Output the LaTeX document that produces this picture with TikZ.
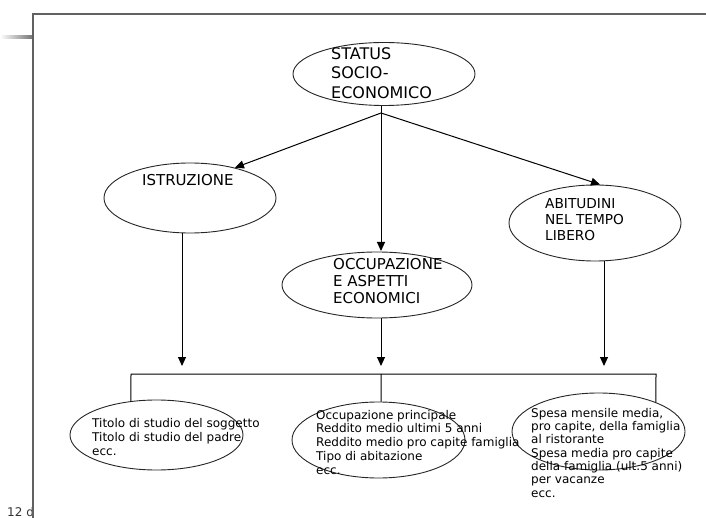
\documentclass[tikz,border=0pt]{standalone}
\usepackage{fontspec}
\setmainfont{DejaVu Sans}
\usetikzlibrary{shapes.geometric,arrows.meta}
\begin{document}
\begin{tikzpicture}[x=1pt,y=-1pt,
  bubble/.style={draw=black!85, line width=0.9pt, ellipse, inner sep=0pt},
  caption/.style={anchor=north west, align=left, inner sep=0pt, text=black},
  link/.style={draw=black, line width=1pt},
  arr/.style={link, -{Triangle[width=8pt,length=9pt]}},
  frame/.style={draw=black!62, line width=1.5pt}]
\useasboundingbox (0,0) rectangle (706,518);
\fill[white] (0,0) rectangle (706,518);

% slide page number, partly hidden by the frame
\node[anchor=base west, inner sep=0pt, text=black!80, font=\fontsize{12}{14}\selectfont] (pagenum) at (7,516) {12 d};

% frame of the slide
\shade[left color=white, right color=black!55] (0,36) rectangle (33,38.5);
\draw[frame] (33,518) -- (33,14) -- (706,14);

% ellipses
\node[bubble, minimum width=182pt, minimum height=63pt] (status) at (384,74) {};
\node[bubble, minimum width=172pt, minimum height=70pt] (istr) at (190,198) {};
\node[bubble, minimum width=190pt, minimum height=66pt] (occ) at (377,285) {};
\node[bubble, minimum width=172pt, minimum height=76pt] (abit) at (595,223) {};
\node[bubble, minimum width=173pt, minimum height=70pt] (bl) at (156.5,435) {};
\node[bubble, minimum width=173pt, minimum height=76pt] (bm) at (378.5,440) {};
\node[bubble, minimum width=173pt, minimum height=77pt] (br) at (598.5,431.5) {};

% texts
\node[caption, font=\fontsize{16}{19.5}\selectfont] (tstatus) at (331,47.3) {STATUS\\SOCIO-\\ECONOMICO};
\node[anchor=base west, inner sep=0pt, font=\fontsize{15}{17}\selectfont] (tistr) at (142,186) {ISTRUZIONE};
\node[caption, font=\fontsize{15}{17}\selectfont] (tocc) at (333,258.1) {OCCUPAZIONE\\E ASPETTI\\ECONOMICI};
\node[caption, font=\fontsize{13.7}{16}\selectfont] (tabit) at (545,198) {ABITUDINI\\NEL TEMPO\\LIBERO};
\node[caption, font=\fontsize{12}{14}\selectfont] (tbl) at (92,417.9)
  {Titolo di studio del soggetto\\Titolo di studio del padre\\ecc.};
\node[caption, font=\fontsize{12}{13.75}\selectfont] (tbm) at (316,409.9)
  {Occupazione principale\\Reddito medio ultimi 5 anni\\Reddito medio pro capite famiglia\\Tipo di abitazione\\ecc.};
\node[caption, font=\fontsize{12}{13.33}\selectfont] (tbr) at (531,407.9)
  {Spesa mensile media,\\pro capite, della famiglia\\al ristorante\\Spesa media pro capite\\della famiglia (ult.5 anni)\\per vacanze\\ecc.};

% branching below the top ellipse
\coordinate (fork) at (381,113);
\draw[link] (status.south -| fork) -- (fork);
\draw[arr] (fork) -- (istr.34);
\draw[arr] (fork) -- (abit.north -| 600,0);
\draw[arr] (fork) -- (381,251);

% arrows down to the bracket
\coordinate (tipI) at (182,366);
\coordinate (tipO) at (381,366);
\coordinate (tipA) at (604,366);
\draw[arr] (istr.south -| tipI) -- (tipI);
\draw[arr] (occ.south -| tipO) -- (tipO);
\draw[arr] (abit.south -| tipA) -- (tipA);

% bracket joining the three detail ellipses
\coordinate (bracketL) at (131,374);
\coordinate (bracketM) at (381,374);
\coordinate (bracketR) at (656,374);
\draw[link] (bl.127) -- (bracketL) -- (bracketR) -- (br.27);
\draw[link] (bracketM) -- (bm.86);
\end{tikzpicture}
\end{document}
